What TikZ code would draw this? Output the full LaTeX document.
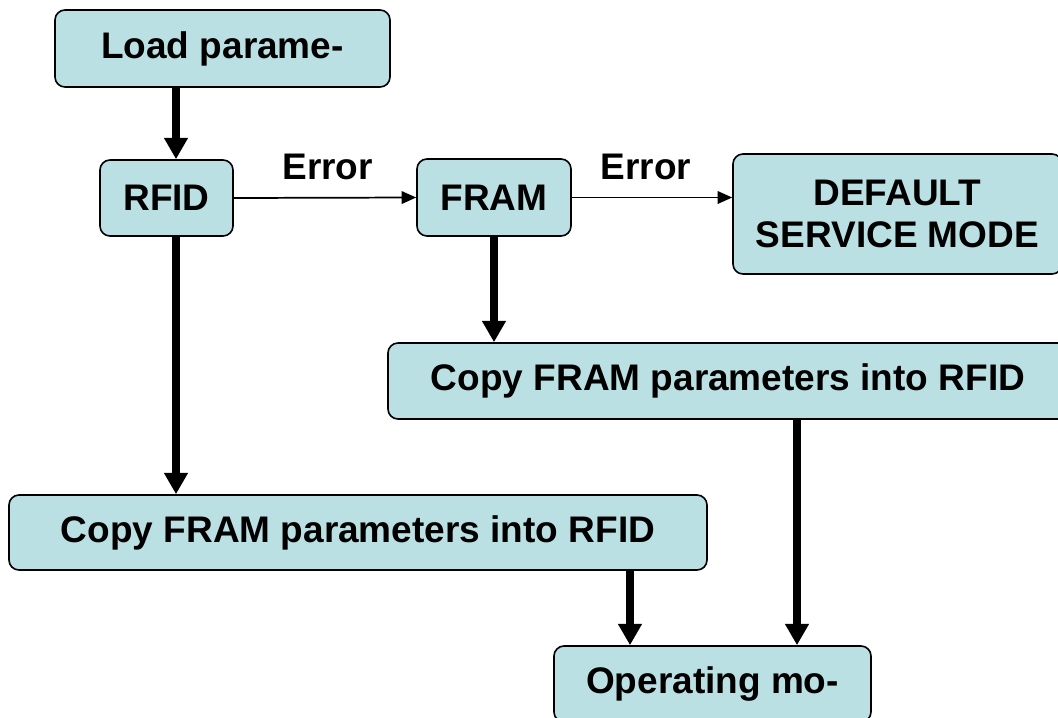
\documentclass[tikz,border=0pt]{standalone}
\usepackage{fontspec}
\setmainfont{Liberation Sans}
\usetikzlibrary{arrows.meta,positioning}
\definecolor{boxfill}{RGB}{187,224,227}
\begin{document}
\begin{tikzpicture}[x=0.75pt,y=-0.75pt,
  box/.style={draw=black, line width=1.2pt, fill=boxfill, rounded corners=7.5pt,
    inner sep=0pt, align=center, anchor=center, font=\fontsize{27.75}{31.5}\selectfont\bfseries},
  bigarrow/.style={line width=6pt, -{Triangle[width=17pt,length=16pt]}},
  smallarrow/.style={line width=1.3pt, -{Triangle[width=9.5pt,length=11pt]}},
  lbl/.style={inner sep=0pt, font=\fontsize{27.75}{31.5}\selectfont\bfseries}]
\useasboundingbox (0,0) rectangle (1058,718);
\clip (0,0) rectangle (1058,718);

\node[box, minimum width=251.25pt, minimum height=57.75pt] (load) at (222.5,48.5) {Load parame-};
\node[box, minimum width=99.75pt, minimum height=57pt] (rfid) at (166.5,198) {RFID};
\node[box, minimum width=115.5pt, minimum height=57.75pt] (fram) at (494,197.5) {FRAM};
\node[box, minimum width=246.75pt, minimum height=90pt] (default) at (897.5,214) {DEFAULT\\SERVICE MODE};
\node[box, minimum width=510pt, minimum height=57pt] (copyA) at (728,381) {Copy FRAM parameters into RFID};
\node[box, minimum width=523.5pt, minimum height=56.25pt] (copyB) at (358,532.5) {Copy FRAM parameters into RFID};
\node[box, minimum width=237.75pt, minimum height=57pt] (oper) at (712.5,684) {Operating mo-};

\coordinate (c176) at (176,0);
\coordinate (c494) at (494,0);
\coordinate (c797) at (797,0);
\coordinate (c630) at (630,0);

\draw[bigarrow] (load.south -| c176) -- (rfid.north -| c176);
\draw[bigarrow] (rfid.south -| c176) -- (copyB.north -| c176);
\draw[bigarrow] (fram.south -| c494) -- (copyA.north -| c494);
\draw[bigarrow] (copyA.south -| c797) -- (oper.north -| c797);
\draw[bigarrow] (copyB.south -| c630) -- (oper.north -| c630);

\draw[smallarrow] (rfid.east) -- node[lbl, above=12.75pt, xshift=2pt] (err1) {Error} (fram.west);
\draw[smallarrow] (fram.east) -- node[lbl, above=12.75pt, xshift=-4.5pt] (err2) {Error} (fram.east -| default.west);
\end{tikzpicture}
\end{document}
